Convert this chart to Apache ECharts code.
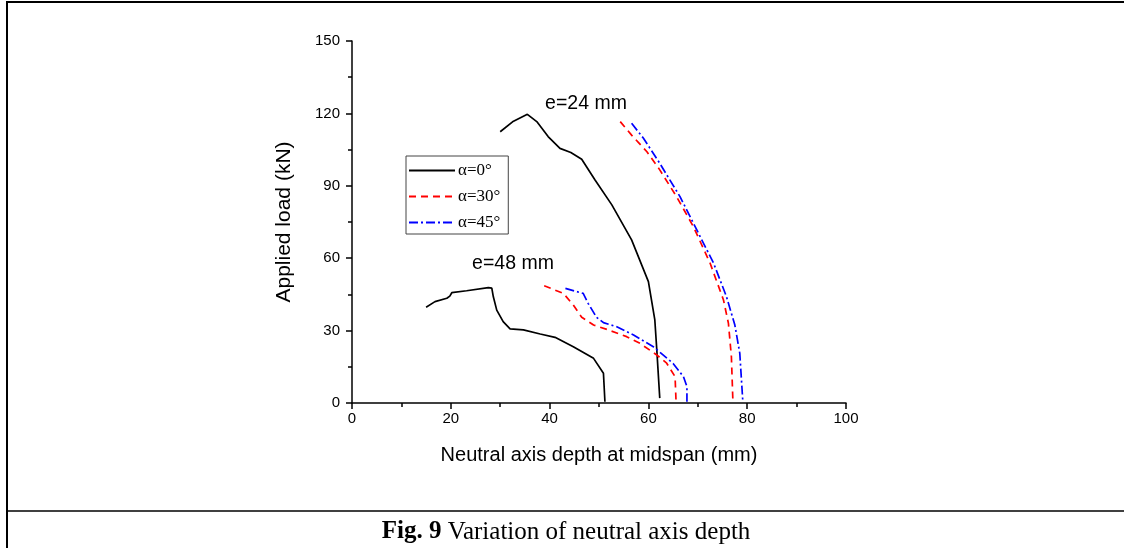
<!DOCTYPE html>
<html>
<head>
<meta charset="utf-8">
<script src="https://cdn.jsdelivr.net/npm/echarts@6/dist/echarts.min.js"></script>
<style>
html,body{margin:0;padding:0;background:#fff;}
#chart{width:1124px;height:548px;}
</style>
</head>
<body>
<div id="chart"></div>
<script>
// Legend names
const seriesNames = ['α=0°', 'α=30°', 'α=45°'];
// Axis ticks
const xTicks = [0, 20, 40, 60, 80, 100];
const yTicks = [0, 30, 60, 90, 120, 150];

// e = 24 mm  [neutral axis depth (mm), load (kN)]
const a0_e24 = [[30.0,112.4],[32.5,116.5],[35.5,119.6],[37.4,116.6],[39.7,110.4],[42.1,105.5],[44.3,103.8],[46.5,101.0],[49.2,92.4],[52.6,82.1],[56.6,67.6],[60.0,50.3],[61.3,34.4],[61.7,22.0],[62.3,2.0]];
const a30_e24 = [[54.3,116.6],[56.6,111.0],[59.7,104.1],[62.3,96.6],[65.7,85.5],[69.1,73.1],[72.5,57.9],[75.2,42.7],[76.2,33.0],[76.8,19.2],[77.1,1.0]];
const a45_e24 = [[56.6,115.9],[59.0,109.7],[62.3,99.3],[66.4,85.5],[69.8,71.7],[73.2,57.9],[75.8,44.1],[77.5,32.3],[78.5,20.6],[79.1,1.0]];

// e = 48 mm
const a0_e48 = [[15.0,39.7],[16.8,42.0],[19.2,43.4],[19.8,44.3],[20.2,45.7],[23.2,46.5],[27.6,47.8],[28.3,47.6],[28.6,44.1],[29.3,38.5],[30.6,33.7],[32.0,30.7],[34.7,30.3],[38.1,28.6],[41.1,27.2],[44.8,23.3],[48.9,18.5],[50.9,12.3],[51.2,0.5]];
const a30_e48 = [[38.9,48.6],[42.8,45.4],[44.8,40.6],[46.5,35.5],[48.9,32.3],[51.6,30.5],[55.6,27.5],[58.3,24.7],[61.7,19.9],[63.7,16.5],[65.4,10.9],[65.6,0.5]];
const a45_e48 = [[43.2,47.5],[46.8,45.4],[47.8,41.3],[49.5,35.5],[50.9,33.3],[53.6,31.6],[57.0,28.2],[61.0,23.3],[65.0,16.4],[67.1,10.9],[67.8,6.8],[67.8,0.5]];

const annotations = ['e=24 mm', 'e=48 mm'];
const caption = ['Fig. 9', ' Variation of neutral axis depth'];

const chart = echarts.init(document.getElementById('chart'), null, {renderer: 'canvas'});

const styles = [
  {color: '#000000', type: 'solid'},
  {color: '#ff0000', type: [7, 5]},
  {color: '#0000ff', type: [9, 3, 2, 3]}
];

function mk(name, data, st) {
  return {
    name: name,
    type: 'line',
    data: data,
    symbol: 'none',
    showSymbol: false,
    smooth: false,
    animation: false,
    lineStyle: {color: st.color, width: 1.7, type: st.type},
    itemStyle: {color: st.color}
  };
}

const sansFont = 'Liberation Sans, Arial, sans-serif';
const serifFont = 'Liberation Serif, Times New Roman, serif';

const option = {
  backgroundColor: '#ffffff',
  animation: false,
  grid: {left: 352, right: 278, top: 41, bottom: 145, containLabel: false},
  xAxis: {
    type: 'value',
    min: xTicks[0], max: xTicks[xTicks.length - 1], interval: 20,
    name: 'Neutral axis depth at midspan (mm)',
    nameLocation: 'middle', nameGap: 42,
    nameTextStyle: {fontFamily: sansFont, fontSize: 20, color: '#000'},
    axisLine: {show: true, onZero: false, lineStyle: {color: '#000', width: 1.5}},
    axisTick: {show: true, inside: false, length: 6, lineStyle: {color: '#000', width: 1.5}},
    minorTick: {show: true, splitNumber: 2, length: 4, lineStyle: {color: '#000', width: 1.5}},
    axisLabel: {fontFamily: sansFont, fontSize: 15, color: '#000', margin: 8},
    splitLine: {show: false}
  },
  yAxis: {
    type: 'value',
    min: yTicks[0], max: yTicks[yTicks.length - 1], interval: 30,
    name: 'Applied load (kN)',
    nameLocation: 'middle', nameGap: 57,
    nameTextStyle: {fontFamily: sansFont, fontSize: 21, color: '#000'},
    axisLine: {show: true, onZero: false, lineStyle: {color: '#000', width: 1.5}},
    axisTick: {show: true, inside: false, length: 6, lineStyle: {color: '#000', width: 1.5}},
    minorTick: {show: true, splitNumber: 2, length: 4, lineStyle: {color: '#000', width: 1.5}},
    axisLabel: {fontFamily: sansFont, fontSize: 15, color: '#000', margin: 12},
    splitLine: {show: false}
  },
  legend: {
    orient: 'vertical',
    left: 406, top: 156,
    data: seriesNames,
    itemWidth: 46, itemHeight: 12, itemGap: 9,
    padding: [6, 8, 3, 2],
    borderColor: '#444', borderWidth: 1,
    backgroundColor: '#fff',
    itemStyle: {opacity: 0},
    textStyle: {fontFamily: serifFont, fontSize: 17, color: '#000', padding: [0, 0, 0, -2]},
    selectedMode: false
  },
  series: [
    mk(seriesNames[0], a0_e24, styles[0]),
    mk(seriesNames[1], a30_e24, styles[1]),
    mk(seriesNames[2], a45_e24, styles[2]),
    mk(seriesNames[0], a0_e48, styles[0]),
    mk(seriesNames[1], a30_e48, styles[1]),
    mk(seriesNames[2], a45_e48, styles[2])
  ],
  graphic: [
    {type: 'line', shape: {x1: 7, y1: 2, x2: 7, y2: 548}, style: {stroke: '#000', lineWidth: 2}, silent: true},
    {type: 'line', shape: {x1: 6, y1: 2, x2: 1124, y2: 2}, style: {stroke: '#000', lineWidth: 2}, silent: true},
    {type: 'line', shape: {x1: 7, y1: 511, x2: 1124, y2: 511}, style: {stroke: '#000', lineWidth: 1.5}, silent: true},
    {type: 'text', x: 586, y: 104, style: {text: annotations[0], font: '19.5px ' + sansFont, fill: '#000', align: 'center', verticalAlign: 'middle'}, silent: true},
    {type: 'text', x: 513, y: 264, style: {text: annotations[1], font: '19.5px ' + sansFont, fill: '#000', align: 'center', verticalAlign: 'middle'}, silent: true},
    {type: 'text', x: 566, y: 532, style: {
      text: '{b|' + caption[0] + '}' + caption[1],
      fontFamily: serifFont, fontSize: 25, fill: '#000', align: 'center', verticalAlign: 'middle',
      rich: {b: {fontFamily: serifFont, fontSize: 25, fontWeight: 'bold', fill: '#000'}}
    }, silent: true}
  ]
};
chart.setOption(option);
</script>
</body>
</html>
